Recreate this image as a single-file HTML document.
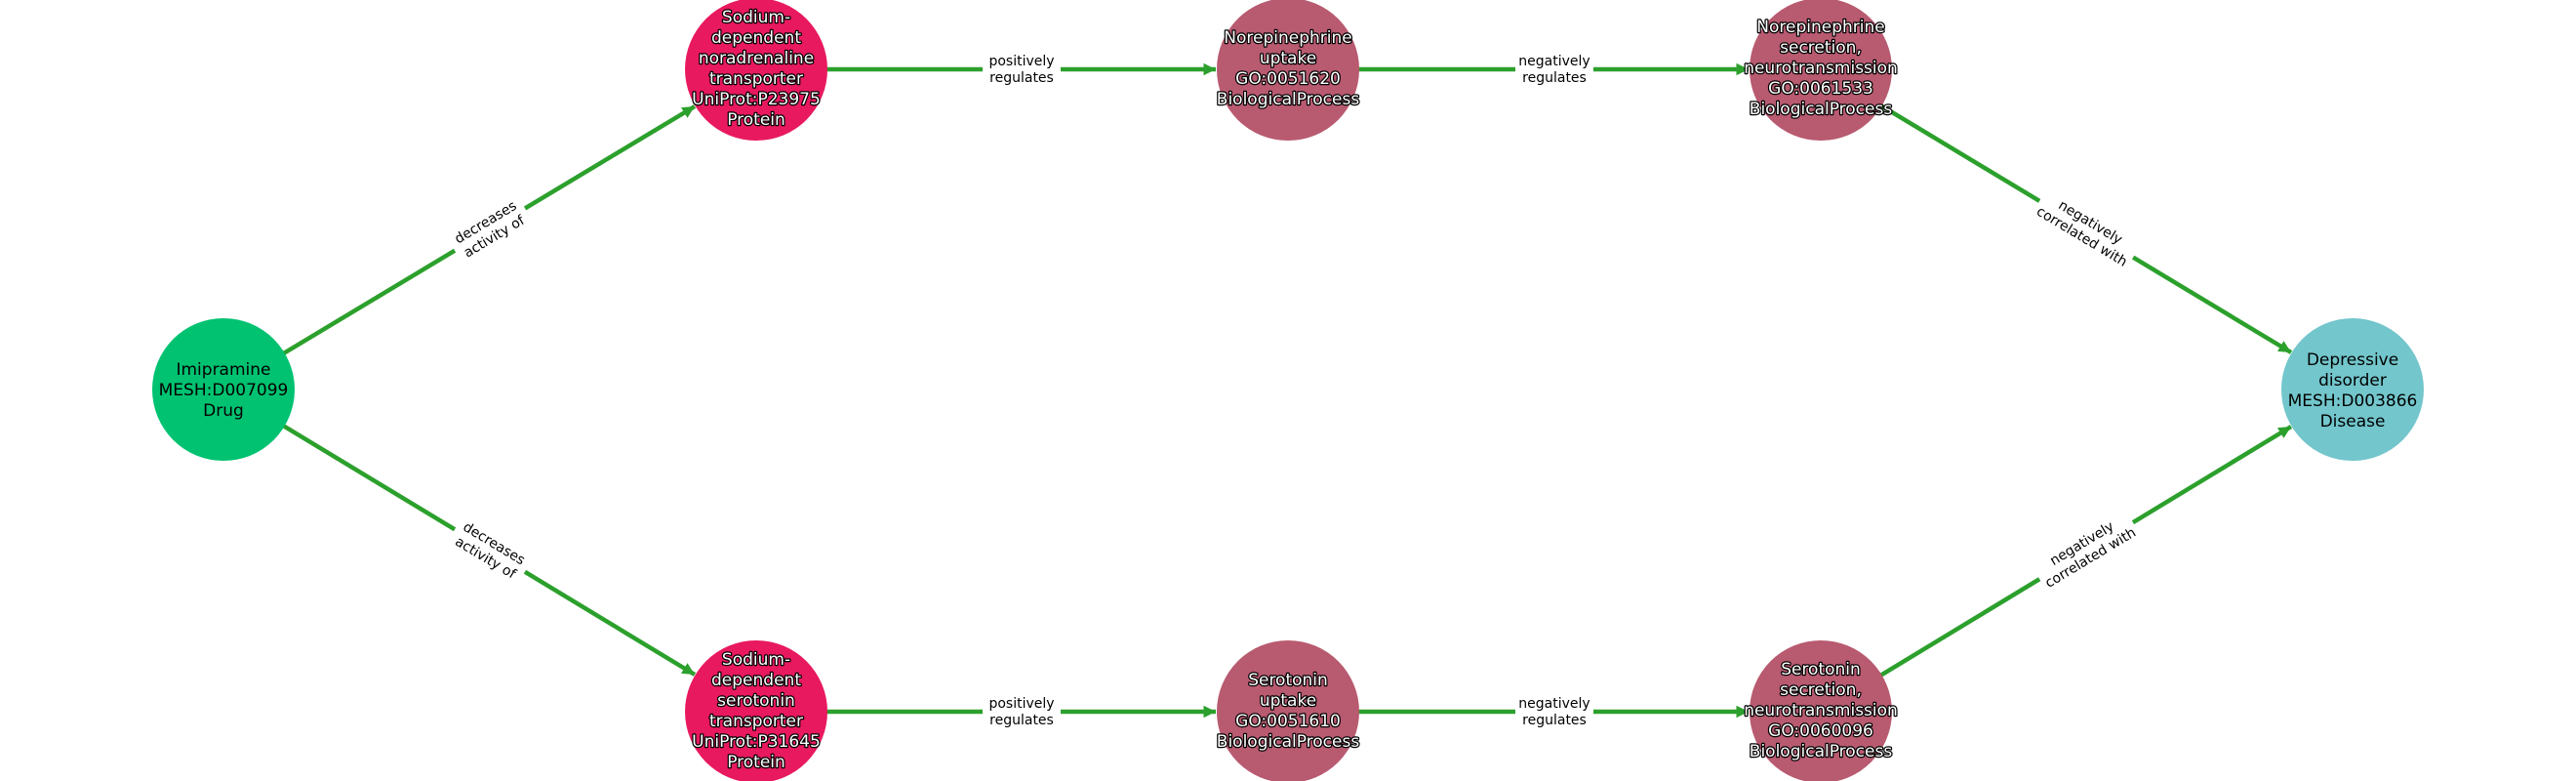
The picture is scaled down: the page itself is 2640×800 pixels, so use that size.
<!DOCTYPE html>
<html><head><meta charset="utf-8"><style>html,body{margin:0;padding:0;background:#fff}svg{display:block}</style></head>
<body>
<svg width="2640" height="800" viewBox="0 0 2640 800" xmlns="http://www.w3.org/2000/svg" font-family="DejaVu Sans, Liberation Sans, sans-serif">
<defs>
<marker id="a" viewBox="0 0 10 10" refX="10" refY="5" markerWidth="2.8" markerHeight="2.8" orient="auto" markerUnits="strokeWidth">
<path d="M0,0 L10,5 L0,10 z" fill="#2ca02c"/>
</marker>
</defs>
<g stroke="#2ca02c" stroke-width="4.5" fill="none" marker-end="url(#a)">
<line x1="229" y1="399" x2="712" y2="109"/>
<line x1="229" y1="399" x2="712" y2="691"/>
<line x1="775" y1="71" x2="1246" y2="71"/>
<line x1="1320" y1="71" x2="1792" y2="71"/>
<line x1="775" y1="729" x2="1246" y2="729"/>
<line x1="1320" y1="729" x2="1792" y2="729"/>
<line x1="1866" y1="71" x2="2348" y2="361"/>
<line x1="1866" y1="729" x2="2348" y2="437"/>
</g>
<g font-size="14" text-anchor="middle" fill="#000">
<g transform="translate(502,235) rotate(-31)"><rect x="-42" y="-20" width="84" height="38" fill="#fff"/><text y="-4">decreases</text><text y="13">activity of</text></g>
<g transform="translate(502,564) rotate(31)"><rect x="-42" y="-20" width="84" height="38" fill="#fff"/><text y="-4">decreases</text><text y="13">activity of</text></g>
<g transform="translate(1047,71)"><rect x="-40" y="-20" width="80" height="38" fill="#fff"/><text y="-4">positively</text><text y="13">regulates</text></g>
<g transform="translate(1047,729)"><rect x="-40" y="-20" width="80" height="38" fill="#fff"/><text y="-4">positively</text><text y="13">regulates</text></g>
<g transform="translate(1593,71)"><rect x="-40" y="-20" width="80" height="38" fill="#fff"/><text y="-4">negatively</text><text y="13">regulates</text></g>
<g transform="translate(1593,729)"><rect x="-40" y="-20" width="80" height="38" fill="#fff"/><text y="-4">negatively</text><text y="13">regulates</text></g>
<g transform="translate(2138,235) rotate(31)"><rect x="-56" y="-20" width="112" height="38" fill="#fff"/><text y="-4">negatively</text><text y="13">correlated with</text></g>
<g transform="translate(2138,564) rotate(-31)"><rect x="-56" y="-20" width="112" height="38" fill="#fff"/><text y="-4">negatively</text><text y="13">correlated with</text></g>
</g>
<circle cx="229" cy="399" r="73" fill="#00c271"/>
<circle cx="775" cy="71" r="73" fill="#e8195f"/>
<circle cx="775" cy="729" r="73" fill="#e8195f"/>
<circle cx="1320" cy="71" r="73" fill="#b85a70"/>
<circle cx="1320" cy="729" r="73" fill="#b85a70"/>
<circle cx="1866" cy="71" r="73" fill="#b85a70"/>
<circle cx="1866" cy="729" r="73" fill="#b85a70"/>
<circle cx="2411" cy="399" r="73" fill="#72c6cc"/>
<g font-size="17" text-anchor="middle" fill="#000">
<text x="229" y="384">Imipramine</text><text x="229" y="405">MESH:D007099</text><text x="229" y="426">Drug</text>
<text x="2411" y="374">Depressive</text><text x="2411" y="395">disorder</text><text x="2411" y="416">MESH:D003866</text><text x="2411" y="437">Disease</text>
</g>
<g font-size="17" text-anchor="middle" fill="#fff" stroke="#000" stroke-width="2.5" paint-order="stroke" stroke-linejoin="round">
<text x="775" y="23">Sodium-</text><text x="775" y="44">dependent</text><text x="775" y="65">noradrenaline</text><text x="775" y="86">transporter</text><text x="775" y="107">UniProt:P23975</text><text x="775" y="128">Protein</text>
<text x="775" y="681">Sodium-</text><text x="775" y="702">dependent</text><text x="775" y="723">serotonin</text><text x="775" y="744">transporter</text><text x="775" y="765">UniProt:P31645</text><text x="775" y="786">Protein</text>
<text x="1320" y="44">Norepinephrine</text><text x="1320" y="65">uptake</text><text x="1320" y="86">GO:0051620</text><text x="1320" y="107">BiologicalProcess</text>
<text x="1320" y="702">Serotonin</text><text x="1320" y="723">uptake</text><text x="1320" y="744">GO:0051610</text><text x="1320" y="765">BiologicalProcess</text>
<text x="1866" y="33">Norepinephrine</text><text x="1866" y="54">secretion,</text><text x="1866" y="75">neurotransmission</text><text x="1866" y="96">GO:0061533</text><text x="1866" y="117">BiologicalProcess</text>
<text x="1866" y="691">Serotonin</text><text x="1866" y="712">secretion,</text><text x="1866" y="733">neurotransmission</text><text x="1866" y="754">GO:0060096</text><text x="1866" y="775">BiologicalProcess</text>
</g>
</svg>
</body></html>
